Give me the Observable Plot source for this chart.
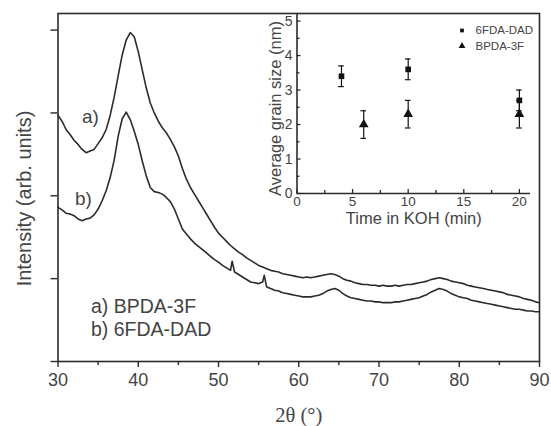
<!DOCTYPE html>
<html>
<head>
<meta charset="utf-8">
<script src="https://cdn.jsdelivr.net/npm/d3@7"></script>
<script src="https://cdn.jsdelivr.net/npm/@observablehq/plot@0.6"></script>
<style>
  body { margin: 0; background: #fff; }
  #chart { position: relative; width: 551px; height: 426px; }
  #chart svg { position: absolute; left: 0; top: 0; }
</style>
</head>
<body>
<div id="chart"></div>
<script>
// XRD patterns, [2θ (deg), intensity (arb. units)]
const curveA = [ // a) BPDA-3F
  [30,2.97],[30.5,2.90],[31,2.80],[31.5,2.74],[32,2.67],[32.5,2.62],[33,2.56],[33.5,2.52],[34,2.54],[34.5,2.56],
  [35,2.63],[35.5,2.70],[36,2.80],[36.5,2.97],[37,3.19],[37.5,3.45],[38,3.70],[38.5,3.88],[39,3.97],[39.5,3.92],
  [40,3.74],[40.5,3.52],[41,3.30],[41.5,3.12],[42,3.00],[42.5,2.90],[43,2.82],[43.5,2.76],[44,2.68],[44.5,2.59],
  [45,2.48],[45.5,2.33],[46,2.20],[46.5,2.10],[47,2.02],[47.5,1.94],[48,1.86],[48.5,1.78],[49,1.70],[49.5,1.62],
  [50,1.55],[50.5,1.50],[51,1.45],[51.5,1.40],[52,1.36],[52.5,1.32],[53,1.29],[53.5,1.25],[54,1.22],[54.5,1.19],
  [55,1.16],[55.5,1.14],[56,1.12],[56.5,1.10],[57,1.09],[57.5,1.08],[58,1.06],[58.5,1.05],[59,1.04],[59.5,1.03],
  [60,1.02],[60.5,1.01],[61,1.02],[61.5,1.01],[62,1.02],[62.5,1.03],[63,1.04],[63.5,1.05],[64,1.06],[64.5,1.05],
  [65,1.03],[65.5,1.00],[66,0.98],[66.5,0.97],[67,0.95],[67.5,0.94],[68,0.93],[68.5,0.93],[69,0.92],[69.5,0.92],
  [70,0.91],[70.5,0.92],[71,0.91],[71.5,0.91],[72,0.92],[72.5,0.91],[73,0.92],[73.5,0.93],[74,0.93],[74.5,0.94],
  [75,0.95],[75.5,0.96],[76,0.97],[76.5,0.99],[77,1.00],[77.5,1.01],[78,1.00],[78.5,0.99],[79,0.97],[79.5,0.96],
  [80,0.95],[80.5,0.94],[81,0.92],[81.5,0.91],[82,0.90],[82.5,0.89],[83,0.88],[83.5,0.87],[84,0.86],[84.5,0.85],
  [85,0.84],[85.5,0.83],[86,0.81],[86.5,0.80],[87,0.79],[87.5,0.78],[88,0.76],[88.5,0.75],[89,0.74],[89.5,0.72],
  [90,0.71]
];
const curveB = [ // b) 6FDA-DAD
  [30,1.86],[30.5,1.83],[31,1.79],[31.5,1.78],[32,1.76],[32.5,1.72],[33,1.70],[33.5,1.72],[34,1.73],[34.5,1.77],
  [35,1.84],[35.5,1.94],[36,2.06],[36.5,2.22],[37,2.43],[37.5,2.72],[38,2.93],[38.5,3.01],[39,2.92],[39.5,2.78],
  [40,2.62],[40.5,2.42],[41,2.24],[41.5,2.10],[42,2.05],[42.5,2.04],[43,2.02],[43.5,1.98],[44,1.93],[44.5,1.84],
  [45,1.72],[45.5,1.60],[46,1.54],[46.5,1.48],[47,1.43],[47.5,1.39],[48,1.35],[48.5,1.31],[49,1.27],[49.5,1.23],
  [50,1.20],[50.5,1.16],[51,1.13],[51.5,1.10],[51.7,1.21],[52,1.08],[52.5,1.05],[53,1.02],[53.5,0.99],[54,0.96],
  [54.5,0.95],[55,0.94],[55.5,0.96],[55.7,1.04],[56,0.90],[56.5,0.88],[57,0.86],[57.5,0.85],[58,0.83],[58.5,0.82],
  [59,0.81],[59.5,0.80],[60,0.79],[60.5,0.78],[61,0.78],[61.5,0.78],[62,0.79],[62.5,0.80],[63,0.82],[63.5,0.85],
  [64,0.87],[64.5,0.88],[65,0.86],[65.5,0.82],[66,0.79],[66.5,0.77],[67,0.76],[67.5,0.75],[68,0.74],[68.5,0.73],
  [69,0.73],[69.5,0.72],[70,0.72],[70.5,0.71],[71,0.71],[71.5,0.71],[72,0.72],[72.5,0.72],[73,0.73],[73.5,0.74],
  [74,0.75],[74.5,0.76],[75,0.77],[75.5,0.79],[76,0.81],[76.5,0.84],[77,0.86],[77.5,0.88],[78,0.87],[78.5,0.85],
  [79,0.82],[79.5,0.80],[80,0.78],[80.5,0.77],[81,0.76],[81.5,0.74],[82,0.73],[82.5,0.72],[83,0.71],[83.5,0.70],
  [84,0.69],[84.5,0.68],[85,0.67],[85.5,0.66],[86,0.65],[86.5,0.64],[87,0.63],[87.5,0.63],[88,0.62],[88.5,0.61],
  [89,0.61],[89.5,0.60],[90,0.60]
];
const xTicks = [30, 40, 50, 60, 70, 80, 90];
const xMinorTicks = [35, 45, 55, 65, 75, 85];
const yTicks = [0, 1, 2, 3, 4];
const curveTags = ["a)", "b)"];
const seriesNames = ["a) BPDA-3F", "b) 6FDA-DAD"];

// Inset: average grain size vs. time in KOH
const insetNames = ["6FDA-DAD", "BPDA-3F"];
const timeDAD = [4, 10, 20];
const sizeDAD = [3.4, 3.6, 2.7];
const errDAD = [0.3, 0.3, 0.3];
const timeBPDA = [6, 10, 20];
const sizeBPDA = [2.0, 2.3, 2.3];
const errBPDA = [0.4, 0.4, 0.4];
const insetXTicks = [0, 5, 10, 15, 20];
const insetXMinor = [2.5, 7.5, 12.5, 17.5];
const insetYTicks = [0, 1, 2, 3, 4, 5];
const insetYMinor = [0.5, 1.5, 2.5, 3.5, 4.5];

const W = 551, H = 426;
const sans = "Liberation Sans, Arial, Helvetica, sans-serif";
const serif = "Liberation Serif, Times New Roman, serif";
const ink = "#2b2b2b";
const textInk = "#444";

const toPts = arr => arr.map(([t, v]) => ({t, v}));

const main = Plot.plot({
  width: W, height: H,
  marginLeft: 57.5, marginRight: 12, marginTop: 13, marginBottom: 65,
  style: {fontFamily: sans, color: textInk, background: "transparent"},
  x: {domain: [30, 90]},
  y: {domain: [0, 4.2]},
  marks: [
    Plot.line(toPts(curveA), {x: "t", y: "v", stroke: ink, strokeWidth: 1.6}),
    Plot.line(toPts(curveB), {x: "t", y: "v", stroke: ink, strokeWidth: 1.6}),
    Plot.axisY({ticks: yTicks, tickSize: 7, tickFormat: () => "", label: null, stroke: ink, strokeWidth: 1.4}),
    Plot.axisX({ticks: xMinorTicks, tickSize: 4, tickFormat: () => "", label: null, stroke: ink, strokeWidth: 1.4}),
    Plot.axisX({ticks: xTicks, tickSize: 6, tickPadding: 6, fontSize: 18, label: null, stroke: ink, strokeWidth: 1.4, fill: textInk}),
    Plot.frame({stroke: ink, strokeWidth: 1.6}),
    Plot.text([curveTags[0]], {frameAnchor: "top-left", textAnchor: "middle", lineAnchor: "middle", dx: 32.5, dy: 103, fontSize: 19, fill: textInk}),
    Plot.text([curveTags[1]], {frameAnchor: "top-left", textAnchor: "middle", lineAnchor: "middle", dx: 25.5, dy: 185, fontSize: 19, fill: textInk}),
    Plot.text([seriesNames.join("\n")], {frameAnchor: "bottom-left", textAnchor: "start", lineAnchor: "bottom",
      dx: 33, dy: -26, fontSize: 19.5, lineHeight: 1.13, fill: textInk}),
    Plot.text(["Intensity (arb. units)"], {frameAnchor: "left", textAnchor: "middle", lineAnchor: "middle", rotate: -90, dx: -33.5, dy: 11, fontSize: 20, fill: textInk}),
    Plot.text(["2θ (°)"], {frameAnchor: "bottom", textAnchor: "middle", lineAnchor: "bottom", dy: 60, fontSize: 20.5, fontFamily: serif, fill: textInk})
  ]
});

const errRows = (ts, vs, es) => ts.map((t, i) => ({t, v: vs[i], lo: vs[i] - es[i], hi: vs[i] + es[i]}));
const dad = errRows(timeDAD, sizeDAD, errDAD);
const bpda = errRows(timeBPDA, sizeBPDA, errBPDA);
const capHalf = 0.25;
const insetLeft = 296.5, insetRight = 21, insetTop = 13, insetBottom = 233;
const frameW = W - insetLeft - insetRight, frameH = H - insetTop - insetBottom;

const errorMarks = rows => [
  Plot.ruleX(rows, {x: "t", y1: "lo", y2: "hi", stroke: "#111", strokeWidth: 1.2}),
  Plot.ruleY(rows, {y: "lo", x1: d => d.t - capHalf, x2: d => d.t + capHalf, stroke: "#111", strokeWidth: 1.2}),
  Plot.ruleY(rows, {y: "hi", x1: d => d.t - capHalf, x2: d => d.t + capHalf, stroke: "#111", strokeWidth: 1.2})
];

const inset = Plot.plot({
  width: W, height: H,
  marginLeft: insetLeft, marginRight: insetRight, marginTop: insetTop, marginBottom: insetBottom,
  style: {fontFamily: sans, color: textInk, background: "transparent"},
  x: {domain: [0, 21], axis: null},
  y: {domain: [0, 5.22], axis: null},
  marks: [
    Plot.tickX(insetXTicks, {x: d => d, insetTop: frameH - 4, stroke: ink, strokeWidth: 1.3}),
    Plot.tickX(insetXMinor, {x: d => d, insetTop: frameH - 3, stroke: ink, strokeWidth: 1.3}),
    Plot.tickY(insetYTicks, {y: d => d, insetRight: frameW - 4, stroke: ink, strokeWidth: 1.3}),
    Plot.tickY(insetYMinor, {y: d => d, insetRight: frameW - 3, stroke: ink, strokeWidth: 1.3}),
    Plot.ruleX([0], {stroke: ink, strokeWidth: 1.6}),
    Plot.ruleY([0], {stroke: ink, strokeWidth: 1.6}),
    Plot.text(insetXTicks, {x: d => d, frameAnchor: "bottom", textAnchor: "middle", lineAnchor: "top", dy: 3, fontSize: 13.5, fill: textInk}),
    Plot.text(insetYTicks, {y: d => d, frameAnchor: "left", textAnchor: "end", lineAnchor: "middle", dx: -4.5, fontSize: 14, fill: textInk}),
    ...errorMarks(dad),
    ...errorMarks(bpda),
    Plot.dot(dad, {x: "t", y: "v", symbol: "square", r: 3.2, fill: "#111", stroke: null}),
    Plot.dot(bpda, {x: "t", y: "v", symbol: "triangle", r: 3.6, fill: "#111", stroke: null}),
    Plot.dot([insetNames[0]], {frameAnchor: "top-right", dx: -68.5, dy: 17, symbol: "square", r: 2.1, fill: "#111", stroke: null}),
    Plot.dot([insetNames[1]], {frameAnchor: "top-right", dx: -68.5, dy: 32.5, symbol: "triangle", r: 2.5, fill: "#111", stroke: null}),
    Plot.text([insetNames[0]], {frameAnchor: "top-right", textAnchor: "start", lineAnchor: "middle", dx: -55, dy: 17, fontSize: 11.5, fill: textInk}),
    Plot.text([insetNames[1]], {frameAnchor: "top-right", textAnchor: "start", lineAnchor: "middle", dx: -55, dy: 32.5, fontSize: 11.5, fill: textInk}),
    Plot.text(["Time in KOH (min)"], {frameAnchor: "bottom", textAnchor: "middle", lineAnchor: "bottom", dy: 30.5, fontSize: 16.5, fill: textInk}),
    Plot.text(["Average grain size (nm)"], {frameAnchor: "left", textAnchor: "middle", lineAnchor: "middle", rotate: -90, dx: -21.5, dy: 5, fontSize: 16.5, fill: textInk})
  ]
});

const chart = document.getElementById("chart");
chart.append(main, inset);
</script>
</body>
</html>
